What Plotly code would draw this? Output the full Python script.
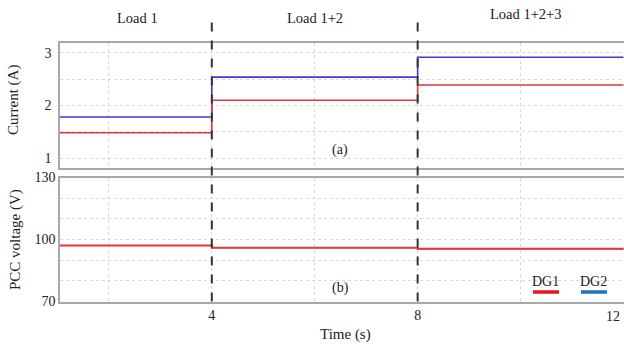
import plotly.graph_objects as go

# ---- data ----
time_s = [0, 4, 8, 12]
dg1_current = [1.48, 2.10, 2.39, 2.39]
dg2_current = [1.78, 2.54, 2.92, 2.92]
dg1_voltage = [97.1, 96.0, 95.5, 95.5]
dg2_voltage = [97.1, 96.0, 95.5, 95.5]
stage_labels = ["Load 1", "Load 1+2", "Load 1+2+3"]
stage_label_x = [2.55, 6.0, 10.1]
switch_times = [4, 8]
x_tickvals = [2, 4, 6, 8, 10, 12]
x_ticktext = ["", "4", "", "8", "", ""]
x_last_label = "12"
cur_tickvals = [1, 1.5, 2, 2.5, 3]
cur_ticktext = ["1", "", "2", "", "3"]
volt_tickvals = [70, 80, 90, 100, 110, 120, 130]
volt_ticktext = ["70", "", "", "100", "", "", "130"]

RED = "#e8343a"
BLUE = "#3b3bdc"
LEG_BLUE = "#1f6fc4"
FONT = "Liberation Serif"
W, H = 624, 348

def py(px):
    return 1 - px / H

fig = go.Figure()
fig.add_trace(go.Scatter(x=time_s, y=dg2_current, mode="lines", line=dict(color=BLUE, width=1.6, shape="hv"),
                         xaxis="x", yaxis="y", showlegend=False))
fig.add_trace(go.Scatter(x=time_s, y=dg1_current, mode="lines", line=dict(color=RED, width=1.6, shape="hv"),
                         xaxis="x", yaxis="y", showlegend=False))
fig.add_trace(go.Scatter(x=time_s, y=dg2_voltage, mode="lines", line=dict(color=BLUE, width=1.2, shape="hv"),
                         xaxis="x2", yaxis="y2", showlegend=False))
fig.add_trace(go.Scatter(x=time_s, y=dg1_voltage, mode="lines", line=dict(color=RED, width=2, shape="hv"),
                         xaxis="x2", yaxis="y2", showlegend=False))

xdom = [60 / W, 1]
xrange_ = [1.05, 12.01]
grid = dict(showgrid=True, gridcolor="#d8d8d8", griddash="dot", gridwidth=1, automargin=False,
            showline=True, linecolor="#a8a8a8", linewidth=1.5, mirror=True, zeroline=False,
            ticks="", tickfont=dict(family=FONT, size=14, color="#222"))

fig.update_layout(
    width=W, height=H,
    margin=dict(l=0, r=0, t=0, b=0, autoexpand=False),
    paper_bgcolor="white", plot_bgcolor="white",
    font=dict(family=FONT, size=14, color="#222"),
    xaxis=dict(domain=xdom, range=xrange_, tickvals=x_tickvals, ticktext=[""] * len(x_tickvals),
               anchor="y", **grid),
    yaxis=dict(domain=[py(168), py(43)], range=[0.81, 3.19], tickvals=cur_tickvals, ticktext=cur_ticktext,
               anchor="x", ticklabelstandoff=4, **grid),
    xaxis2=dict(domain=xdom, range=xrange_, tickvals=x_tickvals, ticktext=x_ticktext,
                anchor="y2", **grid),
    yaxis2=dict(domain=[py(301.5), py(177.5)], range=[70, 130], tickvals=volt_tickvals, ticktext=volt_ticktext,
                anchor="x2", **grid),
)

# dashed switch lines
for t in switch_times:
    fig.add_shape(type="line", xref="x", yref="paper", x0=t, x1=t, y0=py(301.5), y1=py(14),
                  line=dict(color="#333", width=2, dash="dash"))

C = dict(xanchor="center", yanchor="middle", showarrow=False)
ann = []
for lbl, xx, yy in zip(stage_labels, stage_label_x, [18, 18, 14]):
    ann.append(dict(x=xx, y=py(yy), xref="x", yref="paper", text=lbl,
                    font=dict(family=FONT, size=14.5, color="#222"), **C))
ann += [
    dict(x=x_tickvals[-1], y=py(316), xref="x2", yref="paper", text=x_last_label, xanchor="right",
         yanchor="middle", showarrow=False, xshift=-1, font=dict(size=14, color="#222")),
    dict(x=6.5, y=py(150), xref="x", yref="paper", text="(a)", font=dict(size=14), **C),
    dict(x=6.5, y=py(288), xref="x", yref="paper", text="(b)", font=dict(size=14), **C),
    dict(x=13 / W, y=py(100), xref="paper", yref="paper", text="Current (A)", textangle=-90,
         font=dict(size=15), **C),
    dict(x=15 / W, y=py(240), xref="paper", yref="paper", text="PCC voltage (V)", textangle=-90,
         font=dict(size=15), **C),
    dict(x=345 / W, y=py(334), xref="paper", yref="paper", text="Time (s)", font=dict(size=15), **C),
    dict(x=545 / W, y=py(281), xref="paper", yref="paper", text="DG1", font=dict(size=14), **C),
    dict(x=593 / W, y=py(281), xref="paper", yref="paper", text="DG2", font=dict(size=14), **C),
]
fig.update_layout(annotations=ann)
fig.add_shape(type="line", xref="paper", yref="paper", x0=533 / W, x1=559 / W, y0=py(292), y1=py(292),
              line=dict(color="#e8141e", width=3.5))
fig.add_shape(type="line", xref="paper", yref="paper", x0=581 / W, x1=607 / W, y0=py(292), y1=py(292),
              line=dict(color=LEG_BLUE, width=3.5))

fig.write_html("out.html", config={"displayModeBar": False},
               post_script="document.body.style.margin='0';")
